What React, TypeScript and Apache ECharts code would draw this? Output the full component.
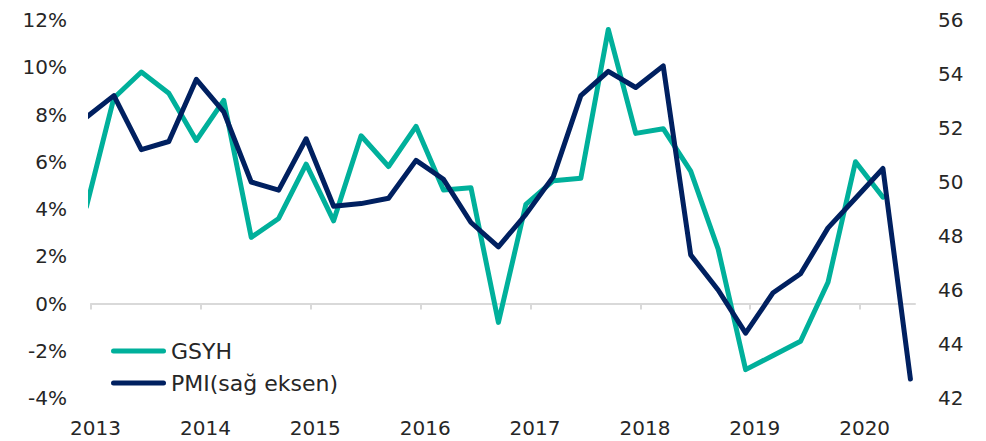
import React, { useEffect, useRef } from 'react';
import * as echarts from 'echarts';

// Quarterly observations (plotted at the middle of each quarter-end month)
const quarters = [
  '2012Q4',
  '2013Q1', '2013Q2', '2013Q3', '2013Q4',
  '2014Q1', '2014Q2', '2014Q3', '2014Q4',
  '2015Q1', '2015Q2', '2015Q3', '2015Q4',
  '2016Q1', '2016Q2', '2016Q3', '2016Q4',
  '2017Q1', '2017Q2', '2017Q3', '2017Q4',
  '2018Q1', '2018Q2', '2018Q3', '2018Q4',
  '2019Q1', '2019Q2', '2019Q3', '2019Q4',
  '2020Q1', '2020Q2',
];

// GSYH (GDP growth, %, left axis)
const gsyh = [
  4.1, 8.7, 9.8, 8.9, 6.9, 8.6, 2.8, 3.6, 5.9, 3.5, 7.1, 5.8, 7.5, 4.8, 4.9, -0.8,
  4.2, 5.2, 5.3, 11.6, 7.2, 7.4, 5.6, 2.3, -2.8, -2.2, -1.6, 0.9, 6.0, 4.5,
];

// PMI (right axis)
const pmi = [
  52.4, 53.2, 51.2, 51.5, 53.8, 52.6, 50.0, 49.7, 51.6, 49.1, 49.2, 49.4, 50.8, 50.1, 48.5, 47.6,
  48.8, 50.2, 53.2, 54.1, 53.5, 54.3, 47.3, 46.0, 44.4, 45.9, 46.6, 48.3, 49.4, 50.5, 42.7,
];

const years = [2013, 2014, 2015, 2016, 2017, 2018, 2019, 2020];

const FONT = 'DejaVu Sans';
const TEXT = '#262626';
const TEAL = '#00B09B';
const NAVY = '#002060';
const AXIS = '#D9D9D9';

const toX = (q: string) => {
  const y = Number(q.slice(0, 4));
  const n = Number(q.slice(5));
  return y + (n * 3 - 0.5) / 12;
};

const capsule = 'path://M2.5,0 H52.5 A2.5,2.5 0 0 1 52.5,5 H2.5 A2.5,2.5 0 0 1 2.5,0 Z';

export default function App() {
  const ref = useRef<HTMLDivElement>(null);

  useEffect(() => {
    if (!ref.current) return;
    const chart = echarts.init(ref.current, undefined, { renderer: 'svg' });
    chart.setOption({
      animation: false,
      backgroundColor: '#ffffff',
      grid: { left: 91, right: 71, top: 20, bottom: 43 },
      legend: {
        orient: 'vertical',
        left: 106,
        top: 335,
        itemWidth: 55,
        itemHeight: 5,
        itemGap: 10,
        textStyle: { fontSize: 22, color: TEXT, fontFamily: FONT },
        data: [
          { name: 'GSYH', icon: capsule },
          { name: 'PMI(sağ eksen)', icon: capsule },
        ],
      },
      xAxis: [
        {
          type: 'value',
          min: 2013,
          max: 2020.5,
          position: 'bottom',
          axisLine: { show: true, onZero: true, onZeroAxisIndex: 0, lineStyle: { color: AXIS, width: 2 } },
          axisTick: { show: true, length: 6, inside: false, customValues: years, lineStyle: { color: AXIS, width: 2 } },
          axisLabel: { show: false },
          splitLine: { show: false },
        },
        {
          type: 'value',
          min: 2013 - 1 / 24,
          max: 2020.5 - 1 / 24,
          position: 'bottom',
          axisLine: { show: false },
          axisTick: { show: false },
          splitLine: { show: false },
          axisLabel: {
            customValues: years,
            fontSize: 20,
            color: TEXT,
            fontFamily: FONT,
            margin: 20,
            formatter: (v: number) => String(Math.round(v)),
          },
        },
      ],
      yAxis: [
        {
          type: 'value',
          min: -4,
          max: 12,
          interval: 2,
          position: 'left',
          axisLine: { show: false },
          axisTick: { show: false },
          splitLine: { show: false },
          axisLabel: { formatter: '{value}%', fontSize: 20, color: TEXT, fontFamily: FONT, margin: 24 },
        },
        {
          type: 'value',
          min: 42,
          max: 56,
          interval: 2,
          position: 'right',
          axisLine: { show: false },
          axisTick: { show: false },
          splitLine: { show: false },
          axisLabel: { fontSize: 20, color: TEXT, fontFamily: FONT, margin: 23 },
        },
      ],
      series: [
        {
          name: 'GSYH',
          type: 'line',
          xAxisIndex: 0,
          yAxisIndex: 0,
          data: gsyh.map((v, i) => [toX(quarters[i]), v]),
          showSymbol: false,
          symbol: 'none',
          color: TEAL,
          lineStyle: { color: TEAL, width: 5, join: 'round', cap: 'round' },
          clip: true,
        },
        {
          name: 'PMI(sağ eksen)',
          type: 'line',
          xAxisIndex: 0,
          yAxisIndex: 1,
          data: pmi.map((v, i) => [toX(quarters[i]), v]),
          showSymbol: false,
          symbol: 'none',
          color: NAVY,
          lineStyle: { color: NAVY, width: 5, join: 'round', cap: 'round' },
          clip: true,
        },
      ],
    });
    return () => chart.dispose();
  }, []);

  return <div ref={ref} style={{ position: 'fixed', left: 0, top: 0, width: 986, height: 441 }} />;
}
